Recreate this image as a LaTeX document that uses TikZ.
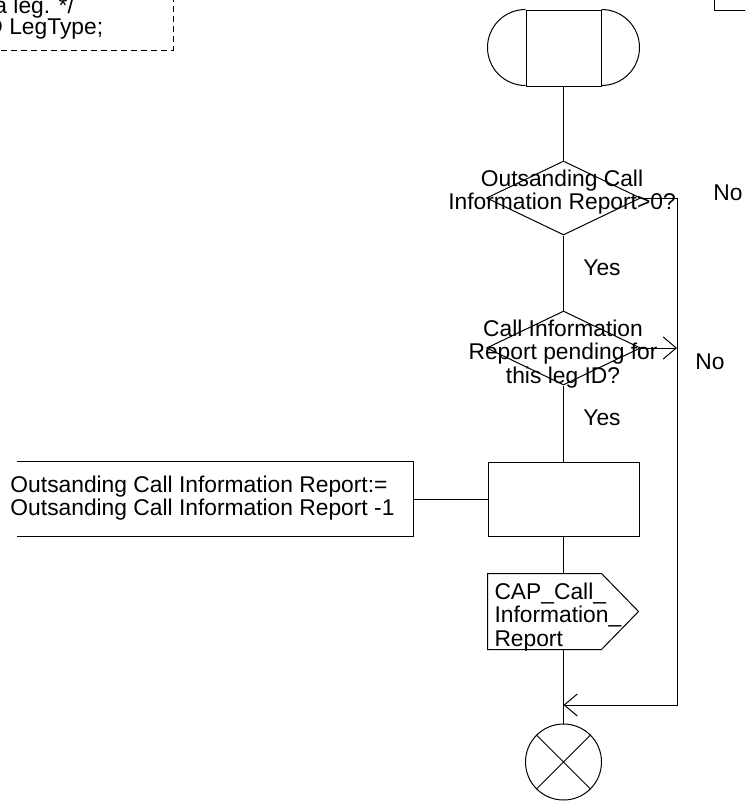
\documentclass[tikz,border=0pt]{standalone}
\usepackage{fontspec}
\setmainfont{Liberation Sans}
\usetikzlibrary{shapes.geometric,arrows.meta}
\begin{document}
\begin{tikzpicture}[x=0.5pt, y=-0.5pt, line width=0.5pt,
    every node/.style={font=\fontsize{11.4}{11.8}\selectfont, inner sep=0pt},
    terminal/.style={draw, minimum width=37.5pt, minimum height=38pt},
    decision/.style={draw, diamond, minimum width=77pt, minimum height=37pt},
    task/.style={draw, minimum width=75.5pt, minimum height=37pt},
    stopstate/.style={draw, circle, minimum size=38pt},
    flowtext/.style={align=center},
    >={Straight Barb[length=6.5pt, width=11pt]}]
    \useasboundingbox (0,0) rectangle (745,803);
    \clip (0,0) rectangle (745,803);

    % declaration box, cut off at the page corner
    \draw[dash pattern=on 3pt off 2pt] (173,-4) -- (173,50) -- (-4,50);
    \node[anchor=base west] (dcl1) at (-6,13) {a leg. */};
    \node[anchor=base west] (dcl2) at (-14,34) {D LegType;};
    \draw (714,-4) -- (714,10) -- (749,10);

    % start symbol
    \node[terminal] (start) at (563.5,48) {};
    \draw (start.north west) arc[start angle=90, end angle=270, radius=19pt];
    \draw (start.north east) arc[start angle=90, end angle=-90, radius=19pt];

    % decisions
    \node[decision] (q1) at (563.5,198) {};
    \node[flowtext] (q1txt) at (562,192) {Outsanding Call\\Information Report>0?};
    \node[decision] (q2) at (563.5,348) {};
    \node[flowtext] (q2txt) at (563,354) {Call Information\\Report pending for\\this leg ID?};

    % task and its text
    \node[task] (task) at (563.5,499) {};
    \node[minimum width=198pt, minimum height=37pt] (note) at (215,499) {};
    \draw (note.north west) -- (note.north east) -- (note.south east) -- (note.south west);
    \node[anchor=west, align=left] (notetxt) at (10,498) {Outsanding Call Information Report:=\\Outsanding Call Information Report -1};

    % output signal
    \node[minimum width=56.5pt, minimum height=37.5pt] (sig) at (544.5,611.5) {};
    \draw (sig.north west) -- (sig.north east) -- ([xshift=18.5pt]sig.east) -- (sig.south east) -- (sig.south west) -- cycle;
    \node[anchor=west, align=left] (sigtxt) at (494,617) {CAP\_Call\_\\Information\_\\Report};

    % stop
    \node[stopstate] (stop) at (563.5,762) {};
    \draw (stop.north west) -- (stop.south east) (stop.north east) -- (stop.south west);

    % flow lines
    \draw (start.south) -- (q1.north);
    \draw (q1.south) -- (q2.north);
    \draw (q2.south) -- (task.north);
    \draw (note.east) -- (task.west);
    \draw (task.south) -- (task.south |- sig.north);
    \draw (task.south |- sig.south) -- (stop.north);

    \coordinate (looptop) at (677,198);
    \coordinate (loopbot) at (677,705);
    \coordinate (merge) at (563.5,705);
    \draw[->] (q1.east) -- (looptop) -- (loopbot) -- (merge);
    \draw[->] (q2.east) -- (q2.east -| looptop);

    \node (no1) at (728,193) {No};
    \node (no2) at (710,362) {No};
    \node (yes1) at (602,268) {Yes};
    \node (yes2) at (602,418) {Yes};
\end{tikzpicture}
\end{document}
